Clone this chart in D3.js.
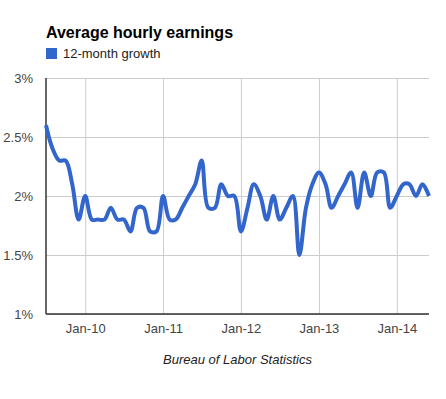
<!doctype html>
<html>
<head>
<style>
  body { margin: 0; background: #fff; }
  text { font-family: Arial, "Liberation Sans", sans-serif; }
</style>
<script src="https://d3js.org/d3.v7.min.js"></script>
</head>
<body>
<svg width="446" height="399"></svg>
<script>

// monthly, Jul 2009 .. Jun 2014
var startMonth = "2009-07";
var growth = [
  2.6, 2.4, 2.3, 2.3, 2.1, 1.8,
  2.0, 1.8, 1.8, 1.8, 1.9, 1.8, 1.8, 1.7, 1.9, 1.9, 1.7, 1.7,
  2.0, 1.8, 1.8, 1.9, 2.0, 2.1, 2.3, 1.9, 1.9, 2.1, 2.0, 2.0,
  1.7, 1.9, 2.1, 2.0, 1.8, 2.0, 1.8, 1.9, 2.0, 1.5, 1.9, 2.1,
  2.2, 2.1, 1.9, 2.0, 2.1, 2.2, 1.9, 2.2, 2.0, 2.2, 2.2, 1.9,
  2.0, 2.1, 2.1, 2.0, 2.1, 2.0
];
var xTicks = ["2010-01", "2011-01", "2012-01", "2013-01", "2014-01"];
var yTicks = [1, 1.5, 2, 2.5, 3];
var seriesName = "12-month growth";

var parseMonth = d3.timeParse("%Y-%m");
var t0 = parseMonth(startMonth);
var data = growth.map(function(v, i) {
  return { date: d3.timeMonth.offset(t0, i), value: v };
});

var svg = d3.select("svg");
var plotL = 46, plotR = 429, plotT = 78, plotB = 314;

var x = d3.scaleTime()
  .domain(d3.extent(data, function(d) { return d.date; }))
  .range([plotL, plotR]);
var y = d3.scaleLinear().domain([1, 3]).range([plotB, plotT]);

// title + legend
svg.append("text")
  .attr("x", 46).attr("y", 37.5)
  .attr("font-size", "16px").attr("font-weight", "bold")
  .attr("fill", "#000")
  .text("Average hourly earnings");

svg.append("rect")
  .attr("x", 46).attr("y", 48).attr("width", 11).attr("height", 11)
  .attr("fill", "#3366cc");
svg.append("text")
  .attr("x", 63).attr("y", 58)
  .attr("font-size", "13px").attr("fill", "#222")
  .text(seriesName);

// horizontal grid + y labels
var yAxis = svg.append("g")
  .attr("transform", "translate(" + plotL + ",0)")
  .call(d3.axisLeft(y)
    .tickValues(yTicks)
    .tickSize(-(plotR - plotL))
    .tickPadding(13)
    .tickFormat(function(d) { return d + "%"; }));
yAxis.select(".domain").remove();
yAxis.selectAll("line").attr("stroke", "#cccccc");
yAxis.selectAll("text")
  .attr("x", -13)
  .attr("font-size", "13px").attr("fill", "#444")
  .attr("font-family", "Arial, 'Liberation Sans', sans-serif");

// vertical grid + x labels
var xAxis = svg.append("g")
  .attr("transform", "translate(0," + plotB + ")")
  .call(d3.axisBottom(x)
    .tickValues(xTicks.map(parseMonth))
    .tickSize(-(plotB - plotT))
    .tickFormat(d3.timeFormat("%b-%y")));
xAxis.select(".domain").remove();
xAxis.selectAll("line").attr("stroke", "#cccccc");
xAxis.selectAll("text")
  .attr("y", 19).attr("dy", null)
  .attr("font-size", "13px").attr("fill", "#444")
  .attr("font-family", "Arial, 'Liberation Sans', sans-serif");

// baseline and left axis line
svg.append("line")
  .attr("x1", plotL).attr("x2", plotR)
  .attr("y1", plotB).attr("y2", plotB)
  .attr("stroke", "#333").attr("stroke-width", 1.5);
svg.append("line")
  .attr("x1", plotL).attr("x2", plotL)
  .attr("y1", plotT).attr("y2", plotB)
  .attr("stroke", "#333").attr("stroke-width", 1.5);

// the series
var line = d3.line()
  .x(function(d) { return x(d.date); })
  .y(function(d) { return y(d.value); })
  .curve(d3.curveCatmullRom.alpha(0.5));

svg.append("path")
  .datum(data)
  .attr("fill", "none")
  .attr("stroke", "#3366cc")
  .attr("stroke-width", 4)
  .attr("stroke-linejoin", "round")
  .attr("d", line);

svg.append("text")
  .attr("x", (plotL + plotR) / 2).attr("y", 364)
  .attr("text-anchor", "middle")
  .attr("font-size", "13px").attr("font-style", "italic")
  .attr("fill", "#222")
  .text("Bureau of Labor Statistics");

</script>
</body>
</html>
